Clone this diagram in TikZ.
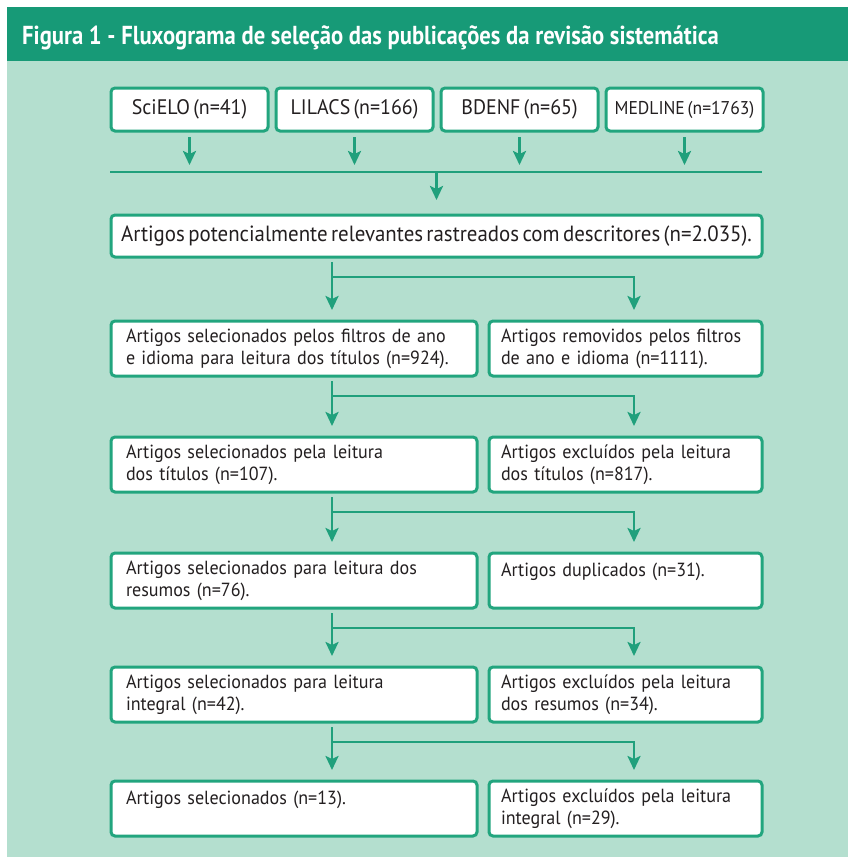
\documentclass[tikz,border=0pt]{standalone}
\usepackage{fontspec}
\setmainfont{PT Sans}[FakeStretch=0.95, WordSpace=0.6]
\newfontfamily\fontetitulo{PT Sans}[FakeStretch=0.87]
\usetikzlibrary{positioning, calc, arrows.meta}
\definecolor{verdetopo}{HTML}{179A77}
\definecolor{verdefundo}{HTML}{B4DFCF}
\definecolor{verdeborda}{HTML}{22A57E}
\definecolor{verdeseta}{HTML}{20A07C}
\definecolor{tinta}{HTML}{231F20}

\begin{document}
\begin{tikzpicture}[%
    x=1pt, y=-1pt,
    node distance=8pt,
    base/.style={%
      text=tinta, outer sep=0pt,
      font=\fontsize{19}{22}\selectfont
    },
    fonte/.style={%
      base, draw=verdeborda, fill=white,
      line width=3pt, rounded corners=4pt,
      minimum width=157pt, minimum height=43pt,
      inner sep=0pt, font=\fontsize{21}{24}\selectfont
    },
    caixa/.style={%
      base, draw=verdeborda, fill=white,
      line width=3pt, rounded corners=4pt,
      minimum height=55pt, inner ysep=0pt,
      align=left
    },
    largo/.style={caixa, inner xsep=15pt, text width=336pt},
    estreito/.style={caixa, inner xsep=12pt, text width=249pt},
    seta/.style={%
      draw=verdeseta, line width=2.5pt,
      -{Stealth[length=14pt, width=13pt, inset=3pt]}
    },
    linha/.style={draw=verdeseta, line width=2.5pt}
  ]
    \useasboundingbox (0,0) rectangle (848,857);
    \fill[white] (0,0) rectangle (848,857);
    \fill[verdefundo] (7,7) rectangle (848,857);
    \fill[verdetopo] (7,7) rectangle (848,61);

    \node[anchor=base west, text=white, inner sep=0pt,
      font=\fontetitulo\bfseries\fontsize{26}{30}\selectfont] (titulo) at (22,44)
      {Figura 1 - Fluxograma de seleção das publicações da revisão sistemática};

    \node[fonte] (scielo) at (189.5,109.5) {SciELO (n=41)};

    \node[fonte] (lilacs) [right=of scielo] {LILACS (n=166)};

    \node[fonte] (bdenf) [right=of lilacs] {BDENF (n=65)};

    \node[fonte, font=\fontsize{18.5}{22}\selectfont] (medline) [right=of bdenf] {MEDLINE (n=1763)};

    \node[fonte, minimum width=651pt, minimum height=42pt, font=\fontsize{22}{24}\selectfont] (busca) at (436.5,236)
      {Artigos potencialmente relevantes rastreados com descritores (n=2.035).};

    \node[largo, below=64pt of busca.south west, anchor=north west] (sel1)
      {Artigos selecionados pelos filtros de ano\\e idioma para leitura dos títulos (n=924).};

    \node[estreito, right=12pt of sel1] (rem1)
      {Artigos removidos pelos filtros\\de ano e idioma (n=1111).};

    \node[largo, below=61pt of sel1] (sel2)
      {Artigos selecionados pela leitura\\dos títulos (n=107).};

    \node[estreito, right=12pt of sel2] (exc2)
      {Artigos excluídos pela leitura\\dos títulos (n=817).};

    \node[largo, below=61pt of sel2] (sel3)
      {Artigos selecionados para leitura dos\\resumos (n=76).};

    \node[estreito, right=12pt of sel3] (dup3)
      {Artigos duplicados (n=31).\\~};

    \node[largo, below=59pt of sel3] (sel4)
      {Artigos selecionados para leitura\\integral (n=42).};

    \node[estreito, right=12pt of sel4] (exc4)
      {Artigos excluídos pela leitura\\dos resumos (n=34).};

    \node[largo, below=59pt of sel4] (sel5)
      {Artigos selecionados (n=13).\\~};

    \node[estreito, right=12pt of sel5] (exc5)
      {Artigos excluídos pela leitura\\integral (n=29).};

    % juncao das bases
    \coordinate (juntaE) at (110,172);
    \coordinate (juntaD) at (762,172);
    \draw[linha] (juntaE) -- (juntaD);
    \foreach \b in {scielo, lilacs, bdenf, medline}
      \draw[seta, shorten >=7pt] ($(\b.south)+(0,6)$) -- (\b.south |- juntaE);
    \draw[seta, shorten >=15pt] (busca.north |- juntaE) -- (busca.north);

    % ramos
    \coordinate (ramoE) at (332,0);
    \coordinate (ramoD) at (634,0);
    \foreach \de/\pa/\ex in {busca/sel1/rem1, sel1/sel2/exc2, sel2/sel3/dup3,
                             sel3/sel4/exc4, sel4/sel5/exc5}
    {
      \draw[seta] ($(ramoE |- \de.south)+(0,5)$) -- ($(ramoE |- \pa.north)+(0,-11)$);
      \draw[seta] ($(ramoE |- \de.south)+(0,20)$) -| ($(ramoD |- \ex.north)+(0,-11)$);
    }
  \end{tikzpicture}
\end{document}
